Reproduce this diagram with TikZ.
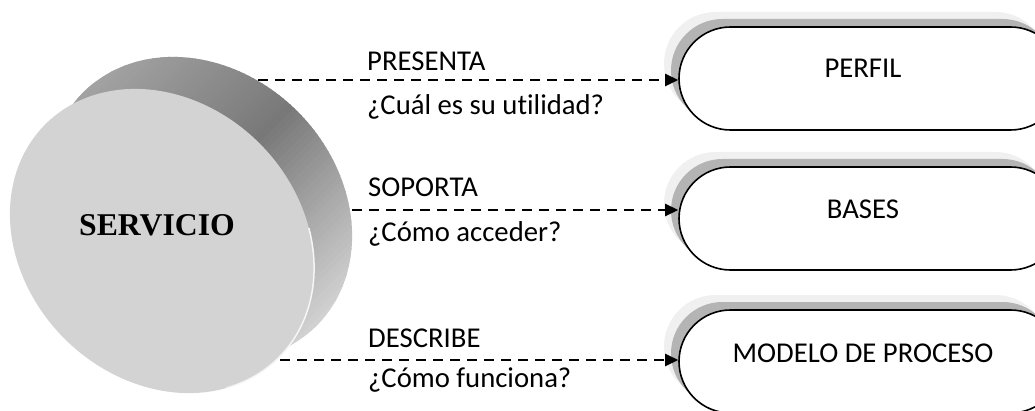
\documentclass[tikz,border=0pt]{standalone}
\usepackage{fontspec}
\setmainfont{Carlito}[Ligatures={TeX,CommonOff}]
\newfontfamily\timesfont{Liberation Serif}
\usetikzlibrary{arrows.meta}
\definecolor{facegray}{HTML}{D3D3D3}
\definecolor{sideA}{HTML}{A6A6A6}
\definecolor{sideB}{HTML}{787878}
\definecolor{sideC}{HTML}{D6D6D6}
\definecolor{shlight}{HTML}{F0F0F0}
\definecolor{shdark}{HTML}{B4B4B4}
\begin{document}
\begin{tikzpicture}[x=1pt,y=1pt,
  lbl/.style={anchor=base west, inner sep=0pt, font=\fontsize{28.7}{34}\selectfont},
  boxtxt/.style={anchor=base, inner sep=0pt, font=\fontsize{28.7}{34}\selectfont},
  conn/.style={dash pattern=on 10pt off 7pt, line width=2.5pt, -{Triangle[length=13pt,width=12pt]}},
  stadium/.style={draw=black, line width=1.6pt, fill=white, rounded corners=51.5pt,
    minimum width=383pt, minimum height=103pt, inner sep=0pt},
]
\useasboundingbox (0,0) rectangle (1035,410);
\clip (0,0) rectangle (1035,410);

% ---- disk (SERVICIO): back rim with a banded gradient, then face ----
\begin{scope}
  \clip plot[domain=0:360, samples=121, smooth]
    ({200 + 0.7071*(165*cos(\x) + 138*sin(\x))}, {201 + 0.7071*(-165*cos(\x) + 138*sin(\x))}) -- cycle;
  \foreach \s in {-200,-195,...,-15} {
    \pgfmathsetmacro\pp{max(0,min(100,(\s+180)/170*100))}
    \fill[sideB!\pp!sideA]
      ({200+0.7071*(\s-250)},{201+0.7071*(-250-\s)}) -- ({200+0.7071*(\s+250)},{201+0.7071*(250-\s)})
      -- ({200+0.7071*(\s+6+250)},{201+0.7071*(250-\s-6)}) -- ({200+0.7071*(\s+6-250)},{201+0.7071*(-250-\s-6)}) -- cycle;
  }
  \foreach \s in {-10,-5,...,200} {
    \pgfmathsetmacro\pp{max(0,min(100,(\s+10)/180*100))}
    \fill[sideC!\pp!sideB]
      ({200+0.7071*(\s-250)},{201+0.7071*(-250-\s)}) -- ({200+0.7071*(\s+250)},{201+0.7071*(250-\s)})
      -- ({200+0.7071*(\s+6+250)},{201+0.7071*(250-\s-6)}) -- ({200+0.7071*(\s+6-250)},{201+0.7071*(-250-\s-6)}) -- cycle;
  }
\end{scope}
\fill[facegray]
  plot[domain=0:360, samples=121, smooth]
  ({162 + 0.7071*(165*cos(\x) + 138*sin(\x))}, {169 + 0.7071*(-165*cos(\x) + 138*sin(\x))}) -- cycle;
\draw[white!80!facegray, line width=1.5pt]
  plot[domain=-25:55, samples=30, smooth]
  ({162 + 0.7071*(165*cos(\x) + 138*sin(\x))}, {169 + 0.7071*(-165*cos(\x) + 138*sin(\x))});
\node[anchor=base, inner sep=0pt, font=\timesfont\bfseries\fontsize{31.7}{36}\selectfont] (serv) at (157,175) {SERVICIO};

% ---- connector start points on the disk ----
\coordinate (s1) at (258,330);
\coordinate (s2) at (352,200);
\coordinate (s3) at (280,50);

% ---- boxes with shadows ----
\foreach \cy in {331.5,191.5,48.5} {
  \fill[shlight, rounded corners=51.5pt] (679-15,\cy-51.5+15) rectangle ++(383,103);
  \fill[shdark, rounded corners=51.5pt] (679-8,\cy-51.5+8) rectangle ++(383,103);
}
\node[stadium] (perfil) at (870.5,331.5) {};
\node[stadium] (bases) at (870.5,191.5) {};
\node[stadium] (modelo) at (870.5,48.5) {};
\node[boxtxt] (perfilt) at (863,332) {PERFIL};
\node[boxtxt] (basest) at (863,192) {BASES};
\node[boxtxt] (modelot) at (863,48) {MODELO DE PROCESO};

% ---- connectors ----
\draw[conn] (s1) -- (perfil.west |- s1);
\draw[conn] (s2) -- (bases.west |- s2);
\draw[conn] (s3) -- (modelo.west |- s3);

% ---- labels ----
\node[lbl] (l1a) at (367,339) {PRESENTA};
\node[lbl] (l1b) at (367,295) {¿Cuál es su utilidad?};
\node[lbl] (l2a) at (368,213) {SOPORTA};
\node[lbl] (l2b) at (368,168) {¿Cómo acceder?};
\node[lbl] (l3a) at (368,63) {DESCRIBE};
\node[lbl] (l3b) at (368,23) {¿Cómo funciona?};
\end{tikzpicture}
\end{document}
